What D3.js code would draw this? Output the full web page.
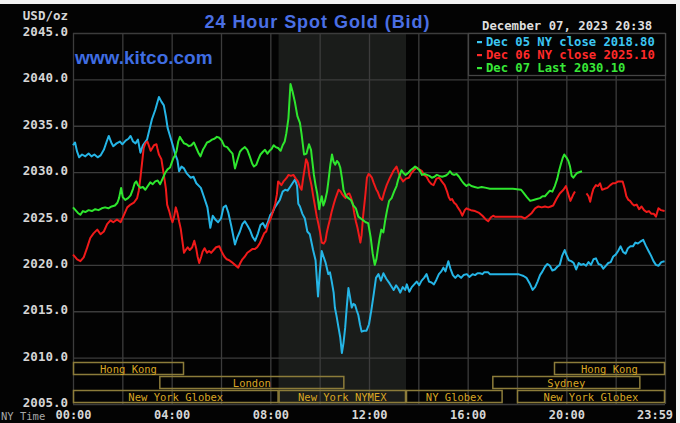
<!DOCTYPE html>
<html>
<head>
<meta charset="utf-8">
<script src="https://cdn.jsdelivr.net/npm/d3@7"></script>
<style>
  html, body { margin: 0; padding: 0; background: #f2f2f2; }
  svg { display: block; }
  .mono { font-family: "DejaVu Sans Mono", monospace; }
</style>
</head>
<body>
<div id="chart"></div>
<script>
// Series: [minutes since midnight NY time, price]
const dec05 = [[0,2032.9],[5,2033.2],[10,2032.2],[15,2031.6],[22,2031.9],[30,2031.7],[38,2032.0],[45,2031.7],[52,2031.9],[60,2031.6],[67,2031.8],[75,2032.4],[82,2033.3],[87,2033.9],[93,2033.2],[98,2032.8],[106,2033.1],[114,2033.3],[120,2033.0],[128,2033.4],[135,2033.6],[140,2033.9],[146,2033.3],[152,2033.1],[158,2033.5],[164,2032.1],[170,2032.9],[180,2033.5],[186,2034.6],[192,2035.7],[200,2036.7],[209,2038.1],[215,2037.6],[221,2037.2],[226,2036.0],[230,2034.8],[236,2033.9],[242,2033.0],[248,2032.0],[254,2031.3],[258,2030.1],[264,2030.6],[270,2030.4],[276,2029.9],[286,2029.4],[293,2029.5],[300,2028.8],[311,2028.3],[318,2027.4],[327,2026.2],[334,2024.0],[340,2025.3],[346,2024.9],[353,2024.6],[360,2025.0],[366,2026.2],[372,2026.4],[378,2025.6],[385,2024.2],[394,2022.2],[400,2023.0],[406,2023.6],[412,2024.4],[418,2024.7],[425,2024.2],[431,2023.7],[437,2023.0],[443,2022.6],[450,2023.4],[456,2024.3],[462,2024.5],[468,2024.0],[474,2024.6],[480,2025.4],[486,2025.7],[491,2026.2],[497,2026.6],[503,2027.0],[510,2027.9],[516,2028.1],[522,2028.0],[528,2028.4],[534,2028.8],[540,2029.2],[545,2028.5],[548,2026.6],[552,2026.3],[558,2025.5],[564,2025.0],[570,2023.6],[576,2023.3],[584,2021.6],[590,2020.5],[593,2018.5],[596,2016.6],[600,2019.0],[605,2021.5],[610,2020.8],[614,2020.3],[621,2019.0],[625,2019.2],[629,2018.3],[634,2017.0],[637,2015.4],[641,2014.5],[646,2013.2],[650,2012.2],[654,2010.5],[658,2011.6],[662,2013.2],[666,2015.5],[670,2017.5],[674,2016.5],[678,2015.4],[682,2015.8],[686,2015.7],[690,2015.1],[694,2014.6],[698,2013.6],[702,2012.8],[708,2012.9],[714,2012.9],[720,2013.6],[726,2015.2],[732,2017.0],[737,2018.6],[743,2019.0],[749,2018.3],[755,2019.1],[762,2018.5],[770,2018.0],[780,2017.3],[786,2017.8],[792,2017.4],[796,2017.0],[802,2017.6],[808,2017.3],[812,2017.9],[818,2017.1],[824,2017.6],[830,2017.9],[836,2018.2],[842,2017.8],[848,2018.3],[854,2018.6],[860,2019.0],[866,2018.2],[872,2018.1],[878,2017.9],[884,2018.4],[890,2019.0],[896,2019.3],[901,2019.7],[906,2019.3],[913,2020.4],[918,2019.6],[924,2018.9],[930,2018.6],[936,2018.9],[944,2018.6],[950,2018.9],[958,2019.0],[964,2018.7],[972,2019.0],[978,2018.9],[984,2019.1],[990,2019.1],[996,2019.0],[1000,2019.2],[1010,2019.2],[1014,2019.0],[1040,2019.0],[1060,2019.0],[1083,2019.0],[1090,2018.9],[1096,2018.8],[1103,2018.6],[1112,2017.9],[1118,2017.3],[1124,2017.6],[1130,2018.2],[1136,2018.9],[1142,2019.3],[1148,2019.8],[1154,2020.1],[1160,2019.9],[1166,2019.4],[1172,2019.5],[1178,2019.8],[1184,2020.0],[1190,2021.0],[1196,2021.6],[1200,2021.1],[1206,2020.5],[1212,2020.4],[1218,2020.2],[1224,2019.5],[1230,2020.2],[1236,2020.0],[1242,2020.1],[1248,2019.9],[1254,2020.3],[1260,2020.0],[1266,2020.6],[1272,2020.7],[1278,2020.1],[1284,2020.0],[1290,2019.6],[1296,2019.9],[1302,2020.2],[1308,2020.3],[1314,2020.9],[1320,2021.1],[1326,2021.5],[1332,2022.0],[1338,2021.4],[1344,2021.2],[1350,2021.8],[1356,2022.0],[1362,2022.0],[1368,2022.4],[1374,2022.3],[1380,2022.5],[1387,2022.7],[1393,2022.1],[1400,2021.5],[1406,2021.0],[1412,2020.4],[1418,2020.0],[1424,2019.9],[1431,2020.3],[1439,2020.4]];

const dec06 = [[0,2021.1],[6,2020.8],[10,2020.6],[18,2020.4],[26,2020.8],[34,2021.8],[42,2022.9],[50,2023.4],[59,2023.8],[67,2023.3],[75,2023.6],[83,2024.4],[91,2024.8],[98,2024.6],[107,2024.9],[116,2024.6],[124,2025.4],[132,2026.2],[140,2026.5],[148,2026.7],[156,2027.2],[160,2028.0],[164,2029.4],[168,2031.0],[172,2032.6],[176,2033.1],[181,2033.3],[185,2032.8],[189,2032.3],[193,2032.6],[197,2032.9],[203,2033.0],[206,2032.4],[209,2031.9],[215,2031.4],[221,2029.7],[226,2028.2],[229,2026.5],[234,2025.8],[238,2025.1],[242,2024.6],[246,2025.2],[250,2026.2],[254,2025.6],[258,2024.7],[262,2023.9],[266,2022.6],[270,2021.3],[274,2021.6],[279,2021.9],[284,2021.6],[290,2021.9],[295,2022.6],[300,2021.7],[303,2020.9],[307,2020.2],[312,2020.9],[315,2021.4],[320,2021.8],[326,2021.3],[331,2021.5],[336,2021.3],[342,2021.6],[348,2021.9],[356,2022.0],[362,2021.4],[368,2020.9],[374,2020.6],[380,2020.5],[386,2020.3],[394,2020.0],[402,2019.7],[407,2020.2],[412,2020.6],[418,2020.9],[424,2021.3],[430,2021.5],[436,2021.7],[442,2021.7],[448,2021.9],[454,2022.3],[460,2022.9],[465,2023.4],[470,2023.6],[475,2024.4],[480,2024.9],[484,2025.4],[488,2026.0],[492,2026.6],[496,2027.6],[499,2029.0],[503,2028.8],[507,2028.6],[512,2029.0],[516,2029.2],[520,2029.4],[524,2029.7],[530,2029.6],[536,2029.7],[542,2029.3],[547,2029.0],[552,2028.4],[556,2028.1],[560,2029.4],[564,2030.5],[567,2031.4],[571,2031.0],[575,2029.6],[580,2028.6],[584,2027.5],[588,2026.5],[593,2025.2],[597,2024.4],[601,2023.5],[605,2022.4],[610,2022.3],[614,2022.6],[617,2023.4],[621,2024.2],[625,2024.9],[629,2025.7],[634,2026.5],[638,2027.1],[642,2027.6],[646,2028.1],[651,2027.9],[655,2027.6],[659,2027.4],[663,2027.2],[667,2027.6],[672,2027.7],[676,2027.3],[680,2026.7],[684,2025.6],[688,2024.7],[692,2024.0],[696,2023.1],[699,2022.4],[702,2023.2],[706,2025.4],[711,2027.5],[715,2029.4],[719,2029.8],[722,2029.7],[727,2029.4],[731,2028.9],[738,2028.1],[741,2027.9],[747,2027.2],[752,2027.0],[757,2027.8],[763,2028.6],[771,2029.4],[779,2030.1],[787,2030.6],[793,2029.8],[797,2029.4],[803,2029.0],[810,2029.3],[817,2029.4],[823,2029.9],[829,2030.2],[836,2030.5],[842,2030.3],[849,2030.1],[854,2029.7],[860,2029.5],[866,2029.0],[872,2028.7],[877,2028.6],[884,2029.3],[891,2029.4],[897,2029.0],[904,2028.6],[910,2027.9],[914,2027.3],[918,2027.0],[922,2027.1],[927,2026.7],[932,2026.5],[936,2026.2],[942,2025.8],[947,2025.3],[953,2025.9],[957,2026.1],[962,2026.0],[968,2025.9],[978,2025.8],[988,2025.6],[996,2025.3],[1004,2024.9],[1010,2024.7],[1016,2025.1],[1022,2025.3],[1026,2025.2],[1050,2025.2],[1070,2025.2],[1090,2025.2],[1099,2025.0],[1108,2025.3],[1116,2025.6],[1124,2026.1],[1132,2026.3],[1140,2026.2],[1148,2026.3],[1156,2026.2],[1162,2026.3],[1168,2026.4],[1176,2027.1],[1184,2027.7],[1193,2028.1],[1199,2028.5],[1205,2027.6],[1210,2026.9],[1216,2027.5],[1221,2027.9],[1235,null],[1249,2027.7],[1254,2027.4],[1258,2026.8],[1262,2027.6],[1266,2028.2],[1272,2028.6],[1277,2028.5],[1282,2028.8],[1287,2028.1],[1293,2028.2],[1300,2028.3],[1307,2028.6],[1313,2028.8],[1319,2028.8],[1326,2029.0],[1332,2029.0],[1337,2029.0],[1342,2028.2],[1346,2027.4],[1351,2027.0],[1355,2026.9],[1360,2026.6],[1365,2026.4],[1371,2026.5],[1377,2026.0],[1383,2026.3],[1389,2025.9],[1395,2025.7],[1401,2025.8],[1407,2025.5],[1413,2025.5],[1418,2025.2],[1424,2026.1],[1430,2025.9],[1439,2025.8]];

const dec07 = [[0,2026.2],[6,2025.9],[12,2025.6],[18,2025.4],[24,2025.8],[30,2025.7],[38,2025.9],[46,2025.8],[54,2026.0],[62,2025.9],[70,2026.1],[78,2026.2],[86,2026.1],[94,2026.3],[102,2026.4],[108,2026.7],[112,2027.2],[117,2028.3],[121,2027.3],[127,2027.0],[134,2027.2],[140,2027.5],[146,2028.2],[150,2028.8],[154,2029.0],[158,2028.6],[164,2028.3],[170,2028.4],[176,2028.1],[182,2028.5],[188,2028.9],[194,2028.7],[200,2029.0],[206,2029.1],[212,2028.7],[218,2029.3],[224,2029.9],[230,2030.3],[236,2030.5],[240,2031.0],[244,2031.5],[248,2031.8],[252,2032.3],[256,2033.3],[260,2033.8],[264,2033.5],[270,2033.1],[276,2033.0],[282,2032.8],[288,2032.9],[294,2033.2],[300,2032.6],[306,2032.0],[310,2031.7],[316,2032.4],[320,2032.7],[326,2033.2],[332,2033.3],[338,2033.5],[344,2033.6],[350,2033.8],[356,2033.7],[362,2033.4],[368,2032.8],[375,2032.7],[382,2032.3],[388,2032.0],[394,2030.4],[400,2031.3],[406,2032.2],[412,2032.5],[418,2032.7],[424,2032.4],[430,2031.7],[436,2030.9],[440,2030.6],[446,2030.8],[451,2031.4],[456,2031.9],[462,2032.2],[467,2032.4],[473,2032.0],[478,2032.3],[483,2032.5],[488,2032.9],[493,2032.7],[499,2032.6],[505,2032.3],[510,2032.9],[515,2033.3],[519,2034.2],[524,2035.8],[529,2039.5],[534,2038.7],[540,2037.5],[546,2036.0],[552,2035.3],[556,2034.1],[562,2031.9],[568,2032.0],[574,2033.0],[579,2032.4],[581,2031.6],[586,2029.7],[590,2028.6],[594,2027.7],[599,2026.0],[602,2026.8],[605,2027.4],[609,2026.4],[613,2026.9],[618,2027.9],[622,2029.3],[626,2030.8],[630,2031.9],[634,2031.1],[638,2030.8],[642,2031.2],[646,2031.0],[650,2030.5],[654,2029.4],[658,2028.1],[664,2027.4],[670,2027.2],[676,2027.0],[682,2026.4],[688,2026.1],[694,2025.2],[700,2025.0],[706,2024.8],[712,2024.6],[718,2024.5],[724,2023.0],[729,2021.2],[734,2020.0],[738,2020.6],[742,2021.8],[746,2022.9],[750,2023.8],[755,2023.5],[759,2024.7],[764,2025.9],[769,2026.9],[775,2027.2],[781,2027.9],[787,2028.5],[791,2029.2],[795,2029.7],[799,2030.2],[804,2029.9],[809,2029.7],[815,2029.9],[821,2030.2],[827,2030.4],[832,2030.6],[838,2030.4],[843,2030.2],[849,2029.7],[855,2029.8],[861,2029.7],[867,2029.6],[873,2029.4],[879,2029.5],[885,2029.7],[891,2029.6],[898,2029.5],[906,2029.6],[912,2029.8],[917,2030.1],[922,2029.8],[927,2029.7],[933,2029.8],[939,2029.5],[945,2029.1],[950,2028.8],[957,2028.5],[963,2028.7],[969,2028.5],[977,2028.4],[985,2028.3],[994,2028.4],[1005,2028.3],[1014,2028.2],[1030,2028.2],[1050,2028.2],[1070,2028.2],[1090,2028.1],[1097,2027.7],[1104,2027.3],[1112,2026.9],[1120,2027.0],[1128,2027.1],[1136,2027.2],[1142,2027.4],[1148,2027.4],[1154,2027.7],[1160,2028.0],[1166,2027.9],[1172,2028.5],[1178,2029.3],[1182,2030.1],[1187,2030.9],[1191,2031.5],[1195,2031.9],[1200,2031.6],[1205,2031.2],[1209,2030.6],[1213,2029.6],[1217,2029.4],[1222,2029.7],[1226,2029.9],[1238,2030.1]];

// Legend
const seriesDays = ["Dec 05", "Dec 06", "Dec 07"];
const seriesKinds = ["NY close", "NY close", "Last"];
const seriesCloses = [2018.80, 2025.10, 2030.10];

// Trading sessions: [label, start minute, end minute, row]
const sessions = [
  ["Hong Kong", 0, 270, 0],
  ["Hong Kong", 1170, 1440, 0],
  ["London", 210, 660, 1],
  ["Sydney", 1020, 1380, 1],
  ["New York Globex", 0, 500, 2],
  ["New York NYMEX", 500, 810, 2],
  ["NY Globex", 810, 1045, 2],
  ["New York Globex", 1080, 1440, 2]
];
const nymexHours = [500, 810];

const yTicks = [2005, 2010, 2015, 2020, 2025, 2030, 2035, 2040, 2045];
const xTicks = [0, 240, 480, 720, 960, 1200, 1439];
const xTickLabels = ["00:00", "04:00", "08:00", "12:00", "16:00", "20:00", "23:59"];
const xGrid = [0, 120, 240, 360, 480, 600, 720, 840, 960, 1080, 1200, 1320, 1440];

// Dimensions
const width = 680, height = 423;
const plot = { left: 73, right: 665, top: 33, bottom: 404 };

const gridColor = "#3c3c3c";
const lineColors = ["#25b5e6", "#f01a1a", "#2ee62e"];
const legendColors = ["#3cc6f2", "#ff2a2a", "#38e838"];
const sessionStroke = "#8c7c3a";
const sessionText = "#d9a623";
const labelColor = "#d6d6d6";

const svg = d3.select("#chart").append("svg")
  .attr("width", width).attr("height", height);

// Background with a light frame at top/right
svg.append("rect").attr("x", 0).attr("y", 4).attr("width", 676).attr("height", height - 4).attr("fill", "#030303");

// Scales
const x = d3.scaleLinear().domain([0, 1440]).range([plot.left, plot.right]);
const y = d3.scaleLinear().domain([2005, 2045]).range([plot.bottom, plot.top]);

// NYMEX shading
svg.append("rect")
  .attr("x", x(nymexHours[0]))
  .attr("y", plot.top)
  .attr("width", x(nymexHours[1]) - x(nymexHours[0]))
  .attr("height", plot.bottom - plot.top)
  .attr("fill", "#1a1c1a");

// Grid
svg.append("g").selectAll("line").data(yTicks).join("line")
  .attr("x1", plot.left).attr("x2", plot.right)
  .attr("y1", d => y(d) + 0.5).attr("y2", d => y(d) + 0.5)
  .attr("stroke", gridColor).attr("stroke-width", 1.3);
svg.append("g").selectAll("line").data(xGrid).join("line")
  .attr("x1", d => x(d) + 0.5).attr("x2", d => x(d) + 0.5)
  .attr("y1", plot.top).attr("y2", plot.bottom)
  .attr("stroke", gridColor).attr("stroke-width", 1.3);

// Y axis
const yAxisG = svg.append("g")
  .attr("class", "mono")
  .attr("transform", `translate(${plot.left},0)`)
  .call(d3.axisLeft(y).tickValues(yTicks).tickFormat(d3.format(".1f")).tickSize(0).tickPadding(5));
yAxisG.select(".domain").remove();
yAxisG.selectAll("text")
  .attr("dy", "0.2em")
  .attr("fill", labelColor).attr("font-size", 12.5).attr("font-weight", "bold")
  .attr("font-family", "DejaVu Sans Mono");

svg.append("text").attr("class", "mono")
  .attr("x", 68).attr("y", 20).attr("text-anchor", "end")
  .attr("fill", labelColor).attr("font-size", 12.5).attr("font-weight", "bold")
  .text("USD/oz");

// X axis labels
const xAxisG = svg.append("g")
  .attr("transform", `translate(0,${plot.bottom})`)
  .call(d3.axisBottom(x).tickValues(xTicks).tickFormat((d, i) => xTickLabels[i]).tickSize(0).tickPadding(6));
xAxisG.select(".domain").remove();
xAxisG.selectAll("text")
  .attr("fill", labelColor).attr("font-size", 12).attr("font-weight", "bold")
  .attr("font-family", "DejaVu Sans Mono")
  .attr("text-anchor", (d, i) => i === xTicks.length - 1 ? "end" : "middle")
  .attr("dx", (d, i) => i === xTicks.length - 1 ? 8 : 0);

svg.append("text")
  .attr("x", 1).attr("y", 420)
  .attr("fill", "#a8a8a8").attr("font-size", 10.5)
  .attr("font-family", "DejaVu Sans Mono")
  .text("NY Time");

// Session boxes
const rowTop = r => plot.bottom - 14 * (3 - r) + 0.5;
const sessionG = svg.append("g").selectAll("g").data(sessions).join("g");
sessionG.append("rect")
  .attr("x", d => x(d[1]) + 0.5)
  .attr("y", d => rowTop(d[3]))
  .attr("width", d => x(d[2]) - x(d[1]) - 1)
  .attr("height", 12)
  .attr("fill", "none")
  .attr("stroke", sessionStroke).attr("stroke-width", 1.5);
sessionG.append("text")
  .attr("x", d => (x(d[1]) + x(d[2])) / 2)
  .attr("y", d => rowTop(d[3]) + 10)
  .attr("text-anchor", "middle")
  .attr("fill", sessionText).attr("font-size", 10.5)
  .attr("font-family", "DejaVu Sans Mono")
  .text(d => d[0]);

// Price lines
const line = d3.line()
  .defined(d => d[1] !== null)
  .x(d => x(d[0]))
  .y(d => y(d[1]));

svg.append("g").selectAll("path").data([dec05, dec06, dec07]).join("path")
  .attr("d", line)
  .attr("fill", "none")
  .attr("stroke", (d, i) => lineColors[i])
  .attr("stroke-width", 2)
  .attr("stroke-linejoin", "round");

// Legend box
svg.append("rect")
  .attr("x", 468.5).attr("y", plot.top + 0.5)
  .attr("width", plot.right - 468).attr("height", 42)
  .attr("fill", "#030303").attr("stroke", "#454545").attr("stroke-width", 1.3);

const legendItem = svg.append("g").selectAll("g").data(seriesDays).join("g")
  .attr("transform", (d, i) => `translate(477,${46 + i * 13})`);
legendItem.append("rect")
  .attr("x", 0).attr("y", -5).attr("width", 5).attr("height", 2.2)
  .attr("fill", (d, i) => legendColors[i]);
legendItem.append("text")
  .attr("x", 9)
  .attr("fill", (d, i) => legendColors[i])
  .attr("font-size", 12.2).attr("font-weight", "bold")
  .attr("font-family", "DejaVu Sans Mono")
  .text((d, i) => `${d} ${seriesKinds[i]} ${seriesCloses[i].toFixed(2)}`);

// Header
svg.append("text")
  .attr("x", 482).attr("y", 30)
  .attr("fill", "#dedede").attr("font-size", 12.3).attr("font-weight", "bold")
  .attr("font-family", "DejaVu Sans Mono")
  .text("December 07, 2023 20:38");

svg.append("text")
  .attr("x", 317).attr("y", 28)
  .attr("text-anchor", "middle")
  .attr("fill", "#4a6fe4").attr("font-size", 18).attr("font-weight", "bold")
  .attr("font-family", "Liberation Sans, Arial, sans-serif")
  .attr("textLength", 225).attr("lengthAdjust", "spacing")
  .text("24 Hour Spot Gold (Bid)");

svg.append("text")
  .attr("x", 75).attr("y", 64)
  .attr("fill", "#3f6de2").attr("font-size", 19).attr("font-weight", "bold")
  .attr("font-family", "Liberation Sans, Arial, sans-serif")
  .text("www.kitco.com");
</script>
</body>
</html>
